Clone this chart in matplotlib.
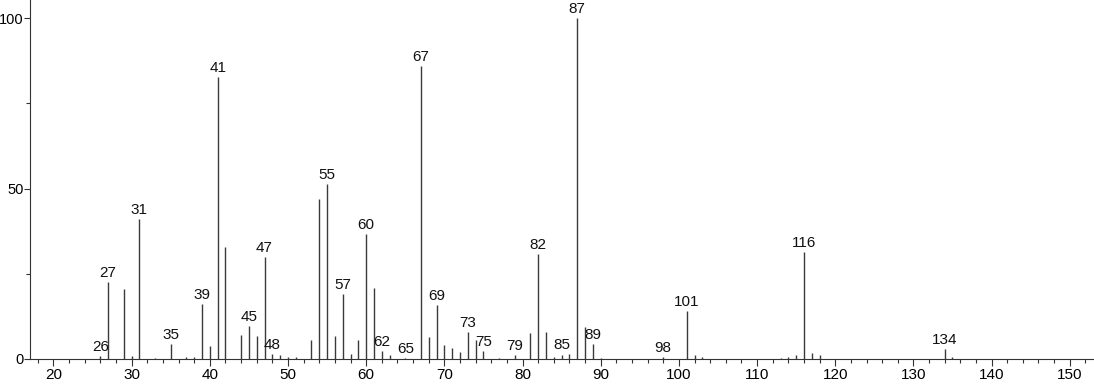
import matplotlib
matplotlib.use("Agg")
import matplotlib.pyplot as plt
from matplotlib.ticker import MultipleLocator

mz = [26, 27, 29, 30, 31, 33, 35, 37, 38, 39, 40, 41, 42, 44, 45, 46, 47, 48, 49, 50, 51,
      53, 54, 55, 56, 57, 58, 59, 60, 61, 62, 63, 65, 67, 68, 69, 70, 71, 72, 73, 74, 75,
      77, 79, 81, 82, 83, 84, 85, 86, 87, 88, 89, 90, 98, 101, 102, 103, 113, 114, 115,
      116, 117, 118, 134, 135]
intensity = [1.0, 22.7, 20.5, 0.9, 41.0, 0.4, 4.3, 0.5, 0.5, 16.1, 3.8, 82.8, 32.8, 7.0, 9.7,
             6.7, 29.8, 1.5, 1.2, 0.5, 0.6, 5.5, 46.8, 51.2, 6.7, 19.1, 1.4, 5.5, 36.7, 20.9,
             2.3, 1.1, 0.4, 85.9, 6.5, 15.7, 4.1, 3.3, 2.1, 7.9, 5.6, 2.4, 0.3, 1.1, 7.7,
             30.8, 8.0, 0.5, 1.3, 1.5, 100.0, 9.4, 4.4, 0.4, 0.5, 14.1, 1.2, 0.7, 0.3, 0.5,
             1.2, 31.3, 1.7, 1.2, 2.8, 0.6]
labeled = [26, 27, 31, 35, 39, 41, 45, 47, 48, 55, 57, 60, 62, 65, 67, 69, 73, 75, 79,
           82, 85, 87, 89, 98, 101, 116, 134]
x_ticks = [20, 30, 40, 50, 60, 70, 80, 90, 100, 110, 120, 130, 140, 150]
y_ticks = [0, 50, 100]

plt.rcParams['font.family'] = ['Liberation Sans', 'DejaVu Sans']

fig = plt.figure(figsize=(10.94, 3.84), dpi=100)
ax = fig.add_axes([30 / 1094, 25 / 384, 1 - 30 / 1094, 1 - 25 / 384])

ax.vlines(mz, 0, intensity, colors='#3a3a3a', linewidth=1.0)
for m, v in zip(mz, intensity):
    if m in labeled:
        ax.annotate(str(m), (m, v), xytext=(0, 1.5), textcoords='offset points',
                    ha='center', va='bottom', fontsize=11, color='#111111')

ax.set_xlim(17, 153.1)
ax.set_ylim(0, 105.3)
ax.set_xticks(x_ticks)
ax.set_yticks(y_ticks)
ax.xaxis.set_minor_locator(MultipleLocator(2))
ax.yaxis.set_minor_locator(MultipleLocator(25))
ax.tick_params(axis='x', which='major', length=5, width=0.8, color='#333333',
               labelsize=11, pad=1.5)
ax.tick_params(axis='y', which='major', length=4, width=0.8, color='#333333',
               labelsize=10.5, pad=0.5)
ax.tick_params(axis='both', which='minor', length=3, width=0.8, color='#333333')
for s in ['top', 'right']:
    ax.spines[s].set_visible(False)
for s in ['left', 'bottom']:
    ax.spines[s].set_color('#333333')
    ax.spines[s].set_linewidth(0.8)

fig.savefig('out.png', dpi=100)
